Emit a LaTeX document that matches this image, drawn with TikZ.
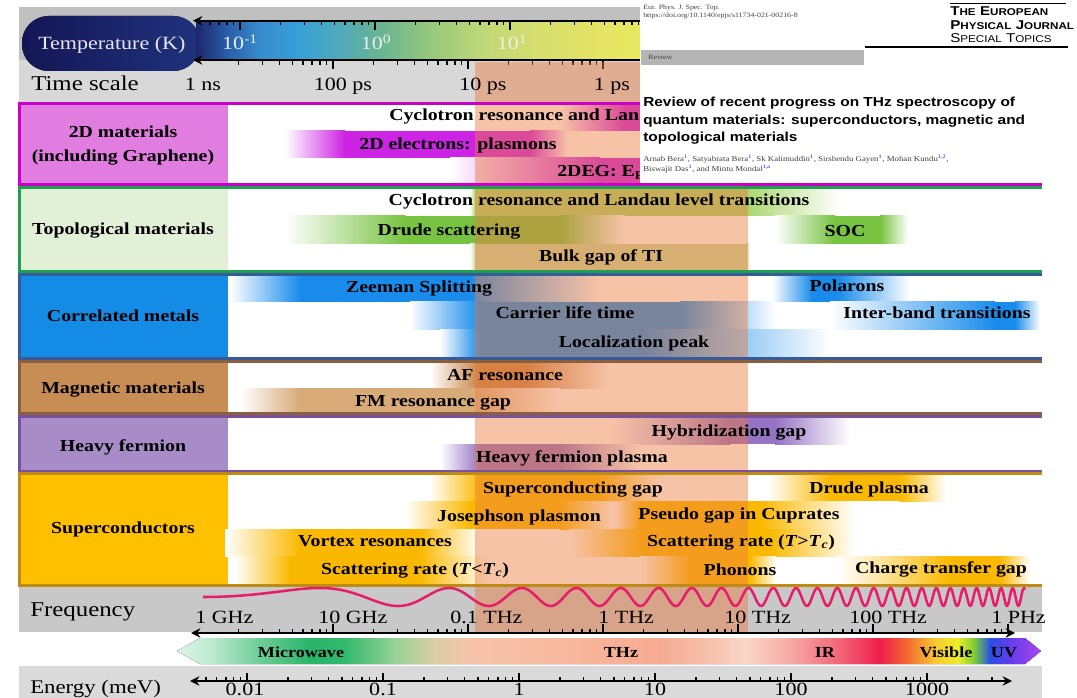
\documentclass[tikz,border=0pt]{standalone}
\usepackage{fontspec}
\setmainfont{Liberation Serif}[FakeStretch=1.18]
\newfontfamily\hsans{Liberation Sans}[FakeStretch=1.18]
\usetikzlibrary{arrows.meta}
% temperature bar stops
\definecolor{tA}{RGB}{30,40,110}\definecolor{tB}{RGB}{40,90,165}\definecolor{tC}{RGB}{55,140,205}
\definecolor{tD}{RGB}{55,160,215}\definecolor{tE}{RGB}{80,170,185}\definecolor{tF}{RGB}{105,180,145}
\definecolor{tG}{RGB}{150,200,125}\definecolor{tH}{RGB}{190,215,120}\definecolor{tI}{RGB}{215,222,110}
\definecolor{tJ}{RGB}{228,228,100}\definecolor{tK}{RGB}{232,232,95}
\definecolor{capL}{RGB}{20,22,85}\definecolor{capR}{RGB}{32,50,125}
% spectrum stops
\definecolor{spA}{RGB}{220,244,232}\definecolor{spB}{RGB}{190,235,210}\definecolor{spC}{RGB}{110,205,150}
\definecolor{spD}{RGB}{40,180,105}\definecolor{spE}{RGB}{50,185,110}\definecolor{spF}{RGB}{150,210,150}
\definecolor{spG}{RGB}{220,205,165}\definecolor{spH}{RGB}{245,195,170}\definecolor{spI}{RGB}{248,185,160}
\definecolor{spJ}{RGB}{246,170,145}\definecolor{spK}{RGB}{247,195,175}\definecolor{spL}{RGB}{250,215,200}
\definecolor{spM}{RGB}{246,170,165}\definecolor{spN}{RGB}{242,100,120}\definecolor{spO}{RGB}{238,30,75}
\definecolor{spP}{RGB}{242,100,50}\definecolor{spQ}{RGB}{248,200,50}\definecolor{spR}{RGB}{236,238,40}
\definecolor{spS}{RGB}{120,200,60}\definecolor{spT}{RGB}{40,80,230}\definecolor{spU}{RGB}{100,60,235}
\definecolor{spV}{RGB}{175,70,240}
% rows
\definecolor{c2D}{RGB}{205,35,228}\definecolor{cell2D}{RGB}{225,125,225}\definecolor{fr2D}{RGB}{200,0,200}
\definecolor{cGreen}{RGB}{120,195,65}\definecolor{cTopoL}{RGB}{170,215,110}\definecolor{cBulk}{RGB}{200,220,160}
\definecolor{cellTopo}{RGB}{226,240,215}\definecolor{frTopo}{RGB}{30,160,80}
\definecolor{cBlue}{RGB}{25,140,235}\definecolor{cellCorr}{RGB}{20,140,230}\definecolor{frCorr}{RGB}{55,90,155}
\definecolor{cBrown}{RGB}{200,135,75}\definecolor{cBrownL}{RGB}{215,170,120}\definecolor{cellMag}{RGB}{200,140,85}
\definecolor{frMag}{RGB}{140,95,60}
\definecolor{cPurple}{RGB}{150,115,195}\definecolor{cellHF}{RGB}{168,140,200}\definecolor{frHF}{RGB}{120,80,160}
\definecolor{cGold}{RGB}{250,185,0}\definecolor{cellSC}{RGB}{255,192,0}\definecolor{frSC}{RGB}{190,140,20}
\definecolor{salmon}{RGB}{237,122,62}
\definecolor{grayA}{RGB}{192,192,192}\definecolor{grayB}{RGB}{216,216,216}
\definecolor{grayF}{RGB}{200,200,200}\definecolor{grayE}{RGB}{218,218,218}
\definecolor{wavec}{RGB}{230,30,105}
\definecolor{revgray}{RGB}{180,180,180}
\newcommand\gbar[7]{%
  \fill[left color=white,right color=#7] (#3,#1) rectangle (#4,#2);
  \fill[#7] (#4-0.3,#1) rectangle (#5+0.3,#2);
  \fill[left color=#7,right color=white] (#5,#1) rectangle (#6,#2);}
\newcommand\msc[2]{{\fontsize{9.6}{10}\selectfont #1}{\fontsize{7.4}{8}\selectfont #2}}
\begin{document}
\begin{tikzpicture}[x=0.75pt,y=-0.75pt,
  bartext/.style={font=\bfseries\fontsize{12.6}{14}\selectfont, inner sep=0, anchor=base},
  celltext/.style={font=\bfseries\fontsize{12.6}{14}\selectfont, inner sep=0, anchor=base},
  axlab/.style={font=\fontsize{14}{16}\selectfont, inner sep=0, anchor=base},
  axlabw/.style={font=\fontsize{14}{16}\selectfont, inner sep=0, anchor=base west},
  bigl/.style={font=\fontsize{15.8}{18}\selectfont, inner sep=0, anchor=base west},
  speclab/.style={font=\bfseries\fontsize{11.5}{13}\selectfont, inner sep=0, anchor=base},
  tick/.style={line width=0.9pt},
  axisl/.style={line width=1.5pt, black},
  frame/.style={line width=2.25pt},
  tiny/.style={font=\fontsize{5}{6}\selectfont, inner sep=0, anchor=base west, text=black!75},
]
\useasboundingbox (0,0) rectangle (1077,698);
\fill[white] (0,0) rectangle (1077,698);
% ---------- top gray band ----------
\fill[grayA] (19,7) rectangle (640,60);
\fill[grayB] (19,60) rectangle (640,103);
% temperature bar
\fill[left color=capL,right color=capR,rounded corners=20pt] (22,16) rectangle (200,71);
\foreach \a/\ca/\b/\cb in {197/tA/225/tB,225/tB/260/tC,260/tC/300/tD,300/tD/340/tE,340/tE/380/tF,
   380/tF/430/tG,430/tG/480/tH,480/tH/540/tI,540/tI/600/tJ,600/tJ/641/tK}
  \fill[left color=\ca,right color=\cb] (\a-0.4,21) rectangle (\b+0.4,60);
\node[font=\fontsize{14}{16}\selectfont, inner sep=0, anchor=base west, text={rgb,255:red,232;green,232;blue,240}] (temp) at (38,50) {Temperature (K)};
\node[axlab, text={rgb,255:red,232;green,238;blue,240}] (tm1) at (240,50) {10\textsuperscript{-1}};
\node[axlab, text={rgb,255:red,232;green,238;blue,240}] (t0) at (376,50) {10\textsuperscript{0}};
\node[axlab, text={rgb,255:red,240;green,240;blue,225}] (t1) at (512,50) {10\textsuperscript{1}};
% temperature axis (top)
\coordinate (tl) at (193,20.7); \coordinate (tr) at (641,20.7);
\draw[axisl,-{Stealth[length=7pt,width=7pt]}] (tr) -- (tl);
\foreach \k in {-1,...,3}{\foreach \m in {2,...,9}{
  \pgfmathsetmacro\tx{240+135*\k+135*log10(\m)}
  \pgfmathtruncatemacro\ok{and(\tx>205,\tx<640)}
  \ifnum\ok=1 \draw[tick] (\tx,20.7) -- (\tx,25); \fi}}
\foreach \tx in {240,375,510}{\draw[tick] (\tx,20.7) -- (\tx,30);}
% time axis (bottom)
\coordinate (bl) at (193,60); \coordinate (br) at (641,60);
\draw[axisl,-{Stealth[length=7pt,width=7pt]}] (br) -- (bl);
\foreach \k in {0,...,3}{\foreach \m in {2,...,9}{
  \pgfmathsetmacro\tx{198+135*\k+135*log10(\m)}
  \pgfmathtruncatemacro\ok{and(\tx>205,\tx<640)}
  \ifnum\ok=1 \draw[tick] (\tx,60) -- (\tx,65); \fi}}
\foreach \tx in {333,468,603}{\draw[tick] (\tx,60) -- (\tx,69);}
% ---------- row groups: cells ----------
\fill[cell2D] (19,104) rectangle (228,185);
\fill[cellTopo] (19,188) rectangle (228,272);
\fill[cellCorr] (19,274) rectangle (228,358);
\fill[cellMag] (19,361) rectangle (228,414);
\fill[cellHF] (19,416) rectangle (228,471);
\fill[cellSC] (19,473) rectangle (228,585);
% ---------- bars ----------
\gbar{105.5}{131}{560}{625}{1030}{1040}{c2D}
\gbar{131}{158}{285}{345}{530}{568}{c2D}
\gbar{158}{183.5}{450}{600}{1030}{1040}{c2D}
\gbar{189.5}{216}{470}{475}{746}{840}{cTopoL}
\gbar{216}{244}{285}{405}{560}{625}{cGreen}
\gbar{216}{244}{775}{835}{880}{908}{cGreen}
\gbar{244}{270.5}{470}{475}{746}{750}{cBulk}
\gbar{275.5}{302}{230}{300}{470}{600}{cBlue}
\gbar{275.5}{302}{772}{812}{838}{910}{cBlue}
\gbar{302}{330}{410}{480}{680}{775}{cBlue}
\gbar{302}{330}{830}{995}{1015}{1040}{cBlue}
\gbar{330}{356.5}{440}{480}{640}{830}{cBlue}
\gbar{362.5}{388}{430}{478}{525}{610}{cBrown}
\gbar{388}{412.5}{240}{300}{470}{560}{cBrownL}
\gbar{417.5}{444}{610}{730}{775}{850}{cPurple}
\gbar{444}{469.5}{440}{480}{560}{640}{cPurple}
\gbar{474.5}{501}{430}{480}{600}{660}{cGold}
\gbar{474.5}{501}{768}{830}{900}{946}{cGold}
\gbar{501}{529}{405}{470}{560}{612}{cGold}
\gbar{501}{529}{614}{640}{760}{855}{cGold}
\gbar{529}{556}{225}{300}{420}{480}{cGold}
\gbar{529}{556}{570}{640}{770}{855}{cGold}
\gbar{556}{583.5}{235}{290}{420}{490}{cGold}
\gbar{556}{583.5}{640}{690}{750}{776}{cGold}
\gbar{556}{583.5}{838}{950}{1000}{1030}{cGold}
% ---------- frequency / energy bands ----------
\fill[grayF] (19,586) rectangle (1042,632);
\fill[grayE] (19,666) rectangle (1042,698);
\begin{scope}
\clip (177,651) -- (200,638) -- (1025,638) -- (1041,651) -- (1025,664) -- (200,664) -- cycle;
\foreach \a/\ca/\b/\cb in {177/spA/210/spB,210/spB/260/spC,260/spC/310/spD,310/spD/345/spE,345/spE/395/spF,
  395/spF/435/spG,435/spG/470/spH,470/spH/560/spI,560/spI/660/spJ,660/spJ/715/spK,715/spK/745/spL,
  745/spL/790/spM,790/spM/840/spN,840/spN/880/spO,880/spO/905/spP,905/spP/935/spQ,935/spQ/958/spR,
  958/spR/975/spS,975/spS/990/spT,990/spT/1010/spU,1010/spU/1042/spV}
  \fill[left color=\ca,right color=\cb] (\a-0.4,637) rectangle (\b+0.4,665);
\end{scope}
% ---------- salmon overlay ----------
\fill[salmon, opacity=0.45] (475,62) rectangle (748,632);
% ---------- frames ----------
\draw[frame,fr2D] (1042,104) -- (19,104) -- (19,185) -- (1042,185);
\draw[frame,frTopo] (1042,188) -- (19,188) -- (19,271.5) -- (1042,271.5);
\draw[frame,frCorr] (1042,274.5) -- (19,274.5) -- (19,358) -- (1042,358);
\draw[frame,frMag] (1042,361) -- (19,361) -- (19,413.5) -- (1042,413.5);
\draw[frame,frHF] (1042,416.5) -- (19,416.5) -- (19,471) -- (1042,471);
\draw[frame,frSC] (1042,473.5) -- (19,473.5) -- (19,585) -- (1042,585);
% ---------- wave ----------
\draw[wavec, line width=1.9pt, line join=round] plot[domain=203:1025, samples=900, variable=\u]
  (\u, {597 - 9*sin(1915*(exp(0.0025*(\u-203)) - 1 - 0.0025*(\u-203)))});
% ---------- frequency axis ----------
\coordinate (fl) at (191,633); \coordinate (fr) at (1015,633);
\draw[axisl,{Stealth[length=7pt,width=7pt]}-{Stealth[length=7pt,width=7pt]}] (fl) -- (fr);
\foreach \k in {0,...,5}{\foreach \m in {2,...,9}{
  \pgfmathsetmacro\tx{198+135*\k+135*log10(\m)}
  \draw[tick] (\tx,633) -- (\tx,628.5);}}
\foreach \tx in {333,468,603,738,873,1008}{\draw[tick] (\tx,633) -- (\tx,624);}
% ---------- energy axis ----------
\coordinate (el) at (190,681); \coordinate (er) at (1012,681);
\draw[axisl,{Stealth[length=7pt,width=7pt]}-{Stealth[length=7pt,width=7pt]}] (el) -- (er);
\foreach \k in {-1,...,5}{\foreach \m in {2,...,9}{
  \pgfmathsetmacro\tx{247+136*\k+136*log10(\m)}
  \pgfmathtruncatemacro\ok{and(\tx>203,\tx<1000)}
  \ifnum\ok=1 \draw[tick] (\tx,681) -- (\tx,676.5); \fi}}
\foreach \tx in {247,383,519,655,791,927}{\draw[tick] (\tx,681) -- (\tx,673);}
% ---------- axis labels ----------
\node[bigl] (tsl) at (31,91) {Time scale};
\node[axlab] (ns1) at (203,91) {1 ns};
\node[axlab] (ps100) at (343,91) {100 ps};
\node[axlab] (ps10) at (483,91) {10 ps};
\node[axlab] (ps1) at (612,91) {1 ps};
\node[bigl] (frl) at (30,616) {Frequency};
\node[axlabw] (g1) at (195,623) {1 GHz};
\node[axlabw] (g10) at (318,623) {10 GHz};
\node[axlabw] (t01) at (450,623) {0.1 THz};
\node[axlabw] (th1) at (598,623) {1 THz};
\node[axlabw] (th10) at (724,623) {10 THz};
\node[axlabw] (th100) at (849,623) {100 THz};
\node[axlabw] (ph1) at (991,623) {1 PHz};
\node[font=\fontsize{14.5}{16}\selectfont, inner sep=0, anchor=base west] (enl) at (30,693) {Energy (meV)};
\node[axlab] (e1) at (245,695.5) {0.01};
\node[axlab] (e2) at (383,695.5) {0.1};
\node[axlab] (e3) at (519,695.5) {1};
\node[axlab] (e4) at (655,695.5) {10};
\node[axlab] (e5) at (791,695.5) {100};
\node[axlab] (e6) at (927,695.5) {1000};
\node[speclab] (mw) at (301,657) {Microwave};
\node[speclab] (thz) at (621,657) {THz};
\node[speclab] (ir) at (825,657) {IR};
\node[speclab] (vis) at (946,657) {Visible};
\node[speclab] (uv) at (1004,657) {UV};
% ---------- cell labels ----------
\node[celltext] (l2a) at (123,138) {2D materials};
\node[celltext] (l2b) at (123,162) {(including Graphene)};
\node[celltext] (lto) at (123,235) {Topological materials};
\node[celltext] (lco) at (123,321) {Correlated metals};
\node[celltext] (lma) at (123,393) {Magnetic materials};
\node[celltext] (lhf) at (123,451) {Heavy fermion};
\node[celltext] (lsc) at (123,533) {Superconductors};
% ---------- bar labels ----------
\node[bartext, anchor=base west] (b1) at (389,121) {Cyclotron resonance and Lan};
\node[bartext] (b2) at (458,150) {2D electrons: plasmons};
\node[bartext, anchor=base west] (b3) at (557,177) {2DEG: E\textsubscript{F}};
\node[bartext] (b4) at (599,206) {Cyclotron resonance and Landau level transitions};
\node[bartext] (b5) at (449,236) {Drude scattering};
\node[bartext] (b6) at (845,237) {SOC};
\node[bartext] (b7) at (601,262) {Bulk gap of TI};
\node[bartext] (b8) at (419,293) {Zeeman Splitting};
\node[bartext] (b9) at (847,292) {Polarons};
\node[bartext] (b10) at (565,319) {Carrier life time};
\node[bartext] (b11) at (937,319) {Inter-band transitions};
\node[bartext] (b12) at (634,347) {Localization peak};
\node[bartext] (b13) at (505,380) {AF resonance};
\node[bartext] (b14) at (433,406) {FM resonance gap};
\node[bartext] (b15) at (729,436) {Hybridization gap};
\node[bartext] (b16) at (572,462) {Heavy fermion plasma};
\node[bartext] (b17) at (573,493) {Superconducting gap};
\node[bartext] (b18) at (869,493) {Drude plasma};
\node[bartext] (b19) at (519,521) {Josephson plasmon};
\node[bartext] (b20) at (739,519) {Pseudo gap in Cuprates};
\node[bartext] (b21) at (375,546) {Vortex resonances};
\node[bartext] (b22) at (741,546) {Scattering rate (\textit{T}>\textit{T}\textsubscript{\textit{c}})};
\node[bartext] (b23) at (415,574) {Scattering rate (\textit{T}<\textit{T}\textsubscript{\textit{c}})};
\node[bartext] (b24) at (740,575) {Phonons};
\node[bartext] (b25) at (941,573) {Charge transfer gap};
% ---------- journal header overlay ----------
\fill[white] (640,0) rectangle (1077,183);
\node[tiny] (ej) at (643,10) {Eur. Phys. J. Spec. Top.};
\node[tiny] (doi) at (643,18) {https://doi.org/10.1140/epjs/s11734-021-00216-8};
\fill[revgray] (641,50) rectangle (864,65);
\node[tiny] (rev) at (648,60) {Review};
\draw[line width=0.5pt] (950,3) -- (1066,3);
\draw[line width=0.8pt] (865,47) -- (1068,47);
\node[inner sep=0, anchor=base west, font=\hsans\bfseries] (m1) at (950,16) {\msc{T}{HE} \msc{E}{UROPEAN}};
\node[inner sep=0, anchor=base west, font=\hsans\bfseries] (m2) at (950,30) {\msc{P}{HYSICAL} \msc{J}{OURNAL}};
\node[inner sep=0, anchor=base west, font=\hsans] (m3) at (950,43) {\msc{S}{PECIAL} \msc{T}{OPICS}};
\node[inner sep=0, anchor=base west, font=\hsans\bfseries\fontsize{9.8}{12}\selectfont] (ti1) at (643,107) {Review of recent progress on THz spectroscopy of};
\node[inner sep=0, anchor=base west, font=\hsans\bfseries\fontsize{9.8}{12}\selectfont] (ti2) at (643,125) {quantum materials: superconductors, magnetic and};
\node[inner sep=0, anchor=base west, font=\hsans\bfseries\fontsize{9.8}{12}\selectfont] (ti3) at (643,142) {topological materials};
\node[tiny, font=\fontsize{5.6}{6}\selectfont] (au1) at (643,162) {Arnab Bera\textsuperscript{\color{blue}1}, Satyabrata Bera\textsuperscript{\color{blue}1}, Sk Kalimuddin\textsuperscript{\color{blue}1}, Sirshendu Gayen\textsuperscript{\color{blue}1}, Mohan Kundu\textsuperscript{\color{blue}1,2},};
\node[tiny, font=\fontsize{5.6}{6}\selectfont] (au2) at (643,172) {Biswajit Das\textsuperscript{\color{blue}1}, and Mintu Mondal\textsuperscript{\color{blue}1,a}};
\end{tikzpicture}
\end{document}
